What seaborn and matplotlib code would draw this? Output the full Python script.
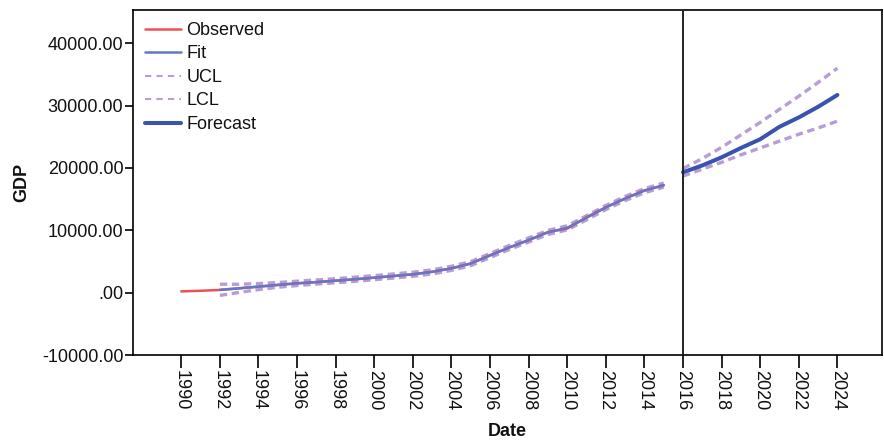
import matplotlib
matplotlib.use("Agg")
import matplotlib.pyplot as plt
from matplotlib.lines import Line2D
import seaborn as sns
import pandas as pd

# ---------------- data ----------------
obs_years = list(range(1990, 2016))
observed = [200, 300, 430, 700, 960, 1230, 1500, 1680, 1920, 2140, 2400, 2660, 2930,
            3350, 3890, 4690, 6010, 7240, 8400, 9730, 10270, 12100, 13700, 15100,
            16400, 17200]

fit_years = list(range(1992, 2016))
fit = [450, 690, 970, 1240, 1490, 1700, 1910, 2150, 2400, 2670, 2950, 3330, 3900,
       4650, 5950, 7250, 8450, 9650, 10400, 12000, 13650, 15100, 16350, 17250]
fit_ucl = [1350, 1340, 1450, 1620, 1840, 2030, 2240, 2480, 2730, 3000, 3280, 3660,
           4230, 4980, 6280, 7580, 8780, 9980, 10730, 12330, 13980, 15430, 16680, 17580]
fit_lcl = [-450, 40, 490, 860, 1140, 1370, 1580, 1820, 2070, 2340, 2620, 3000, 3570,
           4320, 5620, 6920, 8120, 9320, 10070, 11670, 13320, 14770, 16020, 16920]

fc_years = list(range(2016, 2025))
forecast = [19300, 20400, 21700, 23200, 24600, 26600, 28100, 29800, 31700]
fc_ucl = [19900, 21500, 23300, 25300, 27300, 29400, 31500, 33700, 36000]
fc_lcl = [18700, 19800, 20900, 22100, 23200, 24300, 25400, 26400, 27500]

x_ticks = list(range(1990, 2026, 2))
y_ticks = [-10000, 0, 10000, 20000, 30000, 40000]
y_tick_labels = ["-10000.00", ".00", "10000.00", "20000.00", "30000.00", "40000.00"]

# ---------------- style ----------------
sns.set_style("white")
plt.rcParams["font.family"] = ["Liberation Sans", "DejaVu Sans"]
plt.rcParams["text.color"] = "#111111"
plt.rcParams["axes.labelcolor"] = "#111111"
plt.rcParams["xtick.color"] = "#111111"
plt.rcParams["ytick.color"] = "#111111"

c_obs = "#ee4f57"
c_fit = "#6377c6"
c_cl = "#b79cd6"
c_fc = "#3a52b0"

fig = plt.figure(figsize=(8.84, 4.41), dpi=100)
ax = fig.add_axes([0.1505, 0.195, 0.847, 0.782])

df_obs = pd.DataFrame({"Date": obs_years, "GDP": observed})
df_fit = pd.DataFrame({"Date": fit_years, "Fit": fit, "UCL": fit_ucl, "LCL": fit_lcl})
df_fc = pd.DataFrame({"Date": fc_years, "Forecast": forecast, "UCL": fc_ucl, "LCL": fc_lcl})

dash = (2.2, 1.4)
for d in (df_fit, df_fc):
    for col in ("UCL", "LCL"):
        sns.lineplot(data=d, x="Date", y=col, ax=ax, color=c_cl, lw=2.4,
                     dashes=False, legend=False)
        ax.lines[-1].set_dashes(dash)

sns.lineplot(data=df_obs, x="Date", y="GDP", ax=ax, color=c_obs, lw=1.8, legend=False)
sns.lineplot(data=df_fit, x="Date", y="Fit", ax=ax, color=c_fit, lw=1.8, legend=False)
sns.lineplot(data=df_fc, x="Date", y="Forecast", ax=ax, color=c_fc, lw=2.9, legend=False)

ax.axvline(2016, color="#222222", lw=1.4, zorder=5)

ax.set_xlim(1987.5, 2026.3)
ax.set_ylim(-10000, 45300)
ax.set_xticks(x_ticks)
ax.set_xticklabels([str(t) for t in x_ticks], rotation=-90, fontsize=13)
ax.set_yticks(y_ticks)
ax.set_yticklabels(y_tick_labels, fontsize=13)
ax.tick_params(axis="x", direction="out", length=9, width=1.2, color="black",
               bottom=True, pad=2)
ax.tick_params(axis="y", direction="out", length=6, width=1.2, color="black",
               left=True, pad=1)
for s in ax.spines.values():
    s.set_color("black")
    s.set_linewidth(1.2)

ax.set_xlabel("Date", fontsize=13, fontweight="bold", labelpad=9)
ax.set_ylabel("GDP", fontsize=13, fontweight="bold", labelpad=8)

handles = [
    Line2D([], [], color=c_obs, lw=1.8),
    Line2D([], [], color=c_fit, lw=1.8),
    Line2D([], [], color=c_cl, lw=1.5, dashes=(3, 2.5)),
    Line2D([], [], color=c_cl, lw=1.5, dashes=(3, 2.5)),
    Line2D([], [], color=c_fc, lw=2.9),
]
labels = ["Observed", "Fit", "UCL", "LCL", "Forecast"]
ax.legend(handles, labels, loc="upper left", frameon=False, fontsize=13,
          handlelength=2.0, handletextpad=0.3, labelspacing=0.36,
          borderaxespad=0.25, bbox_to_anchor=(0.0, 1.0))

fig.savefig("out.png", dpi=100)
